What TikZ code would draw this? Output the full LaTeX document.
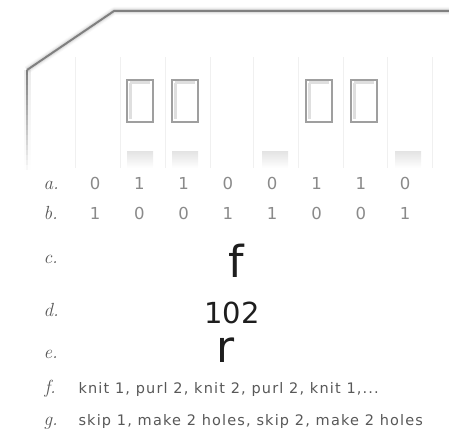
\documentclass[tikz,border=0pt]{standalone}
\usepackage{fontspec}
\newfontfamily\cardsans{DejaVu Sans}
\newfontfamily\instrfont[LetterSpace=8]{DejaVu Sans}
\usetikzlibrary{calc}
\definecolor{edgegray}{HTML}{808080}
\definecolor{digitgray}{HTML}{8A8A8A}
\definecolor{labelgray}{HTML}{585858}
\definecolor{inkdark}{HTML}{1E1E1E}
\tikzset{
  px/.style={x=1pt,y=-1pt},
  rowlabel/.style={font=\fontsize{19}{19}\selectfont\itshape, text=labelgray, anchor=base west},
  digit/.style={font=\cardsans\fontsize{16.5}{17}\selectfont, text=digitgray, anchor=base},
  bigglyph/.style={font=\cardsans\fontsize{44}{44}\selectfont, text=inkdark, anchor=base},
  numglyph/.style={font=\cardsans\fontsize{29}{29}\selectfont, text=inkdark, anchor=base},
  instr/.style={font=\instrfont\fontsize{14.5}{15}\selectfont, text=labelgray, anchor=base west},
  hole/.style={draw=gray!75, line width=2.4pt, fill=white},
  holeinner/.style={draw=gray!25, line width=3pt},
  stub/.style={top color=gray!22, bottom color=white, draw=none},
  rule/.style={draw=gray!12, line width=0.9pt},
}
\begin{document}
\begin{tikzpicture}[px]
\useasboundingbox (0,0) rectangle (449,433);
% card outline with soft shadow
\coordinate (corner) at (27,70);
\coordinate (bevel) at (114,11);
\coordinate (topend) at (449,11);
\foreach \w/\o in {8/0.05,6/0.08,4/0.15}{
  \draw[edgegray, line width=\w pt, opacity=\o, line join=round] (corner) -- (bevel) -- (topend);
}
\draw[edgegray, line width=2pt, line join=round] (corner) -- (bevel) -- (topend);
% left edge fading downwards
\foreach \i in {0,...,19}{
  \pgfmathsetmacro\op{1-\i/20}
  \draw[edgegray, line width=2.4pt, opacity=\op] (27,{70+\i*5}) -- (27,{75+\i*5});
  \draw[edgegray, line width=7pt, opacity={0.15*\op}] (27,{70+\i*5}) -- (27,{75+\i*5});
}
% column rules
\foreach \x in {75,120,165,210,253,298,343,387,432}{
  \draw[rule] (\x,57) -- (\x,168);
}
% punched holes
\foreach \x in {140,185,319,364}{
  \draw[hole] (\x-13,80) rectangle (\x+13,122);
  \draw[holeinner] (\x-10,83) -- (\x-10,119);
  \draw[holeinner] (\x-10,83) -- (\x+10,83);
}
% faint lower stubs
\foreach \x in {140,185,275,408}{
  \shade[stub] (\x-13,151) rectangle (\x+13,168);
}
% row labels
\node[rowlabel] (la) at (40,189) {a.};
\node[rowlabel] (lb) at (40,219) {b.};
\node[rowlabel] (lc) at (40,263) {c.};
\node[rowlabel] (ld) at (40,316) {d.};
\node[rowlabel] (le) at (40,358) {e.};
\node[rowlabel] (lf) at (41,393) {f.};
\node[rowlabel] (lg) at (40,425) {g.};
% bit rows
\foreach \b [count=\i] in {0,1,1,0,0,1,1,0}{
  \node[digit] (a\i) at ({95+(\i-1)*44.3},189) {\b};
}
\foreach \b [count=\i] in {1,0,0,1,1,0,0,1}{
  \node[digit] (b\i) at ({95+(\i-1)*44.3},219) {\b};
}
% decoded values
\node[bigglyph] (cval) at (236,277) {f};
\node[numglyph] (dval) at (232,323) {102};
\node[bigglyph] (eval) at (226,362) {r};
% instructions
\node[instr] (fval) at (75,393) {knit 1, purl 2, knit 2, purl 2, knit 1,...};
\node[instr] (gval) at (75,425) {skip 1, make 2 holes, skip 2, make 2 holes};
\end{tikzpicture}
\end{document}
